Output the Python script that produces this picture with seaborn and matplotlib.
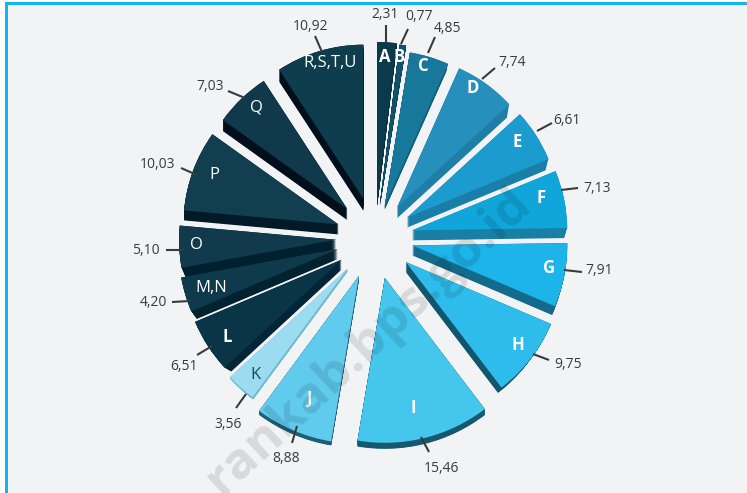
import numpy as np
import matplotlib
matplotlib.use('Agg')
import matplotlib.pyplot as plt
from matplotlib.patches import Rectangle, Wedge
import seaborn as sns

# data (values do not add up to 100, same as the source)
categories = ['A', 'B', 'C', 'D', 'E', 'F', 'G', 'H', 'I', 'J', 'K', 'L', 'M,N', 'O', 'P', 'Q', 'R,S,T,U']
values = [2.31, 0.77, 4.85, 7.74, 6.61, 7.13, 7.91, 9.75, 15.46, 8.88, 3.56, 6.51, 4.20, 5.10, 10.03, 7.03, 10.92]

face_colors = ['#0b3a4b', '#125268', '#17789b', '#268fbc', '#1b9bce', '#10a6da', '#1db4ea', '#2ebcec', '#45c6ec',
               '#61cbee', '#9bdcf0', '#0a3547', '#0e3a4c', '#113b4d', '#123f50', '#103a4b', '#0e3d4e']
side_colors = ['#052a38', '#0c3d50', '#135f7c', '#1f7ea6', '#1a7fa8', '#197fa5', '#146a8a', '#12566e', '#16596f',
               '#1f5f76', '#6fb9cf', '#032536', '#02222f', '#01202f', '#021a28', '#010f1c', '#010f1c']

# wedge geometry, in pixels
gaps = [35, 35, 34, 38, 38, 38, 38, 39, 41, 41, 41, 40, 39, 39, 39, 40, 41]
radii = [161, 160, 155, 152, 153, 155, 155, 158, 165, 168, 160, 159, 159, 157, 155, 153, 154]
drop = [3, 2, 4, 11, 10, 10, 10, 10, 6, 4, 3, 10, 10, 10, 10, 11, 12]
trim = [3, 2, 4, 3, 3, 3, 3, 6, 0, 0, 1, 9, 6, 4, 0, 0, 0]

# label positions, in picture pixels (y from the top)
letter_pos = [(385, 57), (399, 57), (423, 66), (473, 88), (517, 142), (541, 198), (549, 268), (518, 345), (413, 408),
              (309, 399), (255, 375), (227, 337), (211, 288), (196, 245), (214, 175), (256, 108), (330, 63)]
value_pos = [(385, 15), (419, 17), (447, 29), (512, 62), (567, 120), (597, 188), (599, 271), (568, 365), (441, 468),
             (286, 458), (228, 425), (184, 367), (153, 302), (146, 250), (158, 165), (210, 86), (311, 27)]
leader_start = [(386, 25), (408, 29), (435, 37), (495, 68), (552, 123), (578, 188), (582, 272), (549, 360), (429, 452),
                (292, 443), (236, 408), (197, 355), (172, 302), (166, 250), (181, 168), (228, 91), (315, 36)]
leader_end = [(386, 43), (401, 44), (428, 53), (482, 79), (537, 131), (561, 190), (564, 270), (533, 354), (421, 437),
              (297, 426), (246, 394), (212, 346), (190, 301), (183, 250), (197, 175), (245, 98), (322, 52)]

W, H = 747, 493
sns.set_theme(style='white')
plt.rcParams['font.family'] = ['Open Sans', 'DejaVu Sans']

fig = plt.figure(figsize=(W / 100, H / 100), dpi=100, facecolor='white')
ax = fig.add_axes([0, 0, 1, 1])

# panel with the cyan border on the left and top
ax.add_patch(Rectangle((6, 0), W - 6, H - 3, facecolor='#f2f3f5', edgecolor='none', zorder=0))
ax.add_patch(Rectangle((5, 0), 2.5, H - 2, facecolor='#12b5f0', edgecolor='none', zorder=0.5))
ax.add_patch(Rectangle((5, H - 4.5), W - 5, 2.5, facecolor='#12b5f0', edgecolor='none', zorder=0.5))

wedges, _ = ax.pie(values, colors=sns.color_palette(face_colors), explode=gaps, center=(375, H - 238), radius=160,
                   startangle=90, counterclock=False, wedgeprops={'linewidth': 0, 'zorder': 3})

for i, w in enumerate(wedges):
    w.set_radius(radii[i])
    # fake 3d side: the same wedge swept downwards
    cx, cy = w.center
    for t in np.linspace(0, 1, 16):
        ax.add_patch(Wedge((cx, cy - t * drop[i]), radii[i] - t * trim[i], w.theta1, w.theta2,
                           facecolor=side_colors[i], edgecolor='none', zorder=2))

for i, name in enumerate(categories):
    # the first letters are set heavier in the source
    weight = 'bold' if i < 10 or name == 'L' else 'normal'
    color = '#1b4a5c' if name == 'K' else 'white'
    ax.text(letter_pos[i][0], H - letter_pos[i][1], name, color=color, fontsize=12, fontweight=weight,
            ha='center', va='center', zorder=5)
    ax.text(value_pos[i][0], H - value_pos[i][1], f'{values[i]:.2f}'.replace('.', ','), color='#3b3a3a', fontsize=10,
            ha='center', va='center', zorder=5)
    ax.plot([leader_start[i][0], leader_end[i][0]], [H - leader_start[i][1], H - leader_end[i][1]],
            color='#3a3a3a', lw=1.5, solid_capstyle='butt', zorder=5)

# watermark across the pie
ax.text(368, H - 342, 'rankab.bps.go.id', color='black', alpha=0.11, fontsize=37, fontweight='bold', rotation=43,
        rotation_mode='anchor', ha='center', va='center', zorder=6)

ax.set_xlim(0, W)
ax.set_ylim(0, H)
ax.axis('off')
fig.savefig('out.png', dpi=100)
